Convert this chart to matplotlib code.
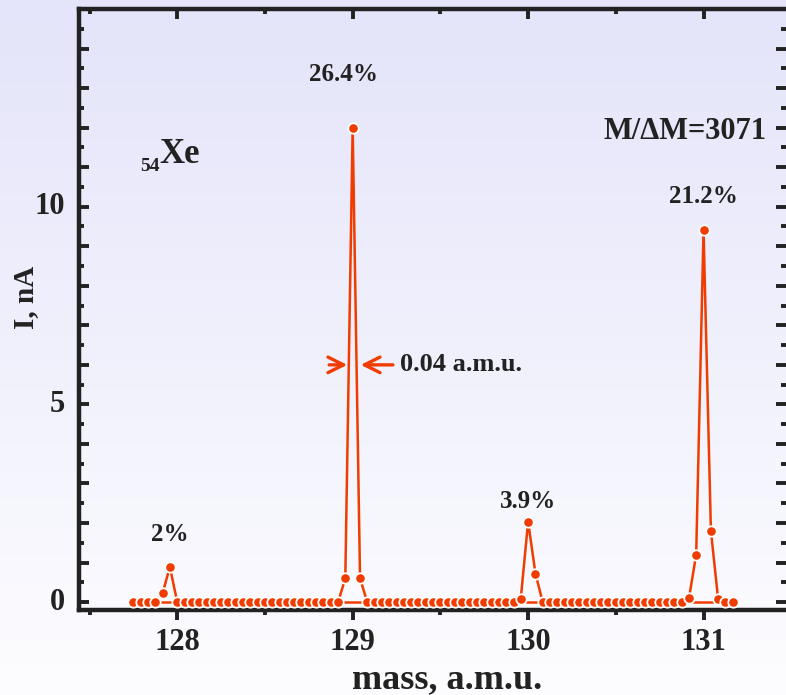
import numpy as np
import matplotlib.pyplot as plt
from matplotlib.ticker import MultipleLocator, FixedLocator

# scan points (a.m.u.) and ion current (nA)
mass = [127.750, 127.792, 127.833, 127.875, 127.917, 127.958,
        128.000, 128.042, 128.083, 128.125, 128.167, 128.208, 128.250, 128.292,
        128.333, 128.375, 128.417, 128.458, 128.500, 128.542, 128.583, 128.625,
        128.667, 128.708, 128.750, 128.792, 128.833, 128.875, 128.917, 128.958,
        129.000, 129.042, 129.083, 129.125, 129.167, 129.208, 129.250, 129.292,
        129.333, 129.375, 129.417, 129.458, 129.500, 129.542, 129.583, 129.625,
        129.667, 129.708, 129.750, 129.792, 129.833, 129.875, 129.917, 129.958,
        130.000, 130.042, 130.083, 130.125, 130.167, 130.208, 130.250, 130.292,
        130.333, 130.375, 130.417, 130.458, 130.500, 130.542, 130.583, 130.625,
        130.667, 130.708, 130.750, 130.792, 130.833, 130.875, 130.917, 130.958,
        131.000, 131.042, 131.083, 131.125, 131.167]
current = [0, 0, 0, 0, 0.23, 0.89,
           0, 0, 0, 0, 0, 0, 0, 0,
           0, 0, 0, 0, 0, 0, 0, 0,
           0, 0, 0, 0, 0, 0, 0, 0.60,
           12.0, 0.60, 0, 0, 0, 0, 0, 0,
           0, 0, 0, 0, 0, 0, 0, 0,
           0, 0, 0, 0, 0, 0, 0, 0.08,
           2.03, 0.72, 0, 0, 0, 0, 0, 0,
           0, 0, 0, 0, 0, 0, 0, 0,
           0, 0, 0, 0, 0, 0, 0.10, 1.20,
           9.40, 1.80, 0.08, 0, 0]

peak_mass = [127.958, 128.95, 130.0, 131.0]
peak_label = ['2%', '26.4%', '3.9%', '21.2%']
label_y = [1.7, 13.35, 2.55, 10.25]

red = '#F03C00'
ink = '#222222'
serif = 'Liberation Serif'

plt.rcParams['font.family'] = serif
plt.rcParams['font.weight'] = 'bold'

fig = plt.figure(figsize=(7.86, 6.95), dpi=100)

# lavender -> white background
bg = fig.add_axes([0, 0, 1, 1], zorder=-2)
grad = np.linspace(0, 1, 256).reshape(-1, 1)
top = np.array([228, 228, 250]) / 255
bot = np.array([253, 253, 255]) / 255
img = top + (bot - top) * grad[:, :, None]
bg.imshow(img, aspect='auto', extent=[0, 1, 0, 1])
bg.axis('off')

ax = fig.add_axes([0.1005, 0.1223, 0.8995, 0.8647])
ax.set_facecolor('none')

ax.plot(mass, np.zeros(len(mass)), '-', color=red, lw=1.8, zorder=2)
ax.plot(mass, current, '-o', color=red, lw=1.8, ms=7.5,
        mec='white', mew=1.3, zorder=3)

ax.set_xlim(127.44, 131.47)
ax.set_ylim(-0.2, 15.0)

for s in ['left', 'top', 'bottom']:
    ax.spines[s].set_linewidth(3.2)
    ax.spines[s].set_color(ink)
ax.spines['right'].set_visible(False)

ax.xaxis.set_major_locator(FixedLocator([128, 129, 130, 131]))
ax.xaxis.set_minor_locator(FixedLocator([127.5, 128.5, 129.5, 130.5]))
ax.yaxis.set_major_locator(MultipleLocator(1))
ax.yaxis.set_minor_locator(MultipleLocator(0.5))
ax.set_yticklabels([])
ax.set_xticklabels(['128', '129', '130', '131'])
for v in [0, 5, 10]:
    ax.text(127.36, v, str(v), ha='right', va='center', fontsize=22,
            color=ink, fontweight='bold')

ax.tick_params(axis='x', which='both', direction='out', top=False,
               color=ink, width=2.8, labelsize=22, labelcolor=ink, pad=6)
ax.tick_params(axis='x', which='major', length=7)
ax.tick_params(axis='x', which='minor', length=3.5)
ax.tick_params(axis='y', which='both', direction='in', left=True, right=True,
               color=ink, width=2.8)
ax.tick_params(axis='y', which='major', length=7)
ax.tick_params(axis='y', which='minor', length=3.5)

sec = ax.secondary_xaxis('top')
sec.xaxis.set_major_locator(FixedLocator([128, 129, 130, 131]))
sec.xaxis.set_minor_locator(FixedLocator([127.5, 128.5, 129.5, 130.5]))
sec.tick_params(axis='x', which='both', direction='in', color=ink,
                width=2.8, labeltop=False)
sec.tick_params(axis='x', which='major', length=7)
sec.tick_params(axis='x', which='minor', length=3.5)
for s in sec.spines.values():
    s.set_visible(False)

ax.set_xlabel('mass, a.m.u.', fontsize=26, color=ink, fontweight='bold',
              va='center')
ax.xaxis.set_label_coords(0.521, -0.116)
ax.set_ylabel('I, nA', fontsize=21, color=ink, fontweight='bold',
              va='center')
ax.yaxis.set_label_coords(-0.075, 0.52)

for m, t, y in zip(peak_mass, peak_label, label_y):
    ax.text(m, y, t, ha='center', va='center',
            fontsize=18, color=ink, fontweight='bold')

ax.text(127.79, 10.9, '54', fontsize=14, color=ink, fontweight='bold',
        ha='left', va='baseline')
ax.text(127.9, 11.1, 'Xe', fontsize=25, color=ink, fontweight='bold',
        ha='left', va='baseline')
ax.text(131.36, 11.9, 'M/\u0394M=3071', fontsize=22, color=ink,
        fontweight='bold', ha='right', va='center')

# width marker
ax.annotate('', xy=(128.985, 6.0), xytext=(128.85, 6.0),
            arrowprops=dict(arrowstyle='->', color=red, lw=2.4,
                            mutation_scale=28))
ax.annotate('', xy=(129.03, 6.0), xytext=(129.245, 6.0),
            arrowprops=dict(arrowstyle='->', color=red, lw=2.4,
                            mutation_scale=28))
ax.text(129.27, 6.0, '0.04 a.m.u.', fontsize=19, color=ink,
        fontweight='bold', ha='left', va='center')

fig.savefig('out.png', dpi=100)
